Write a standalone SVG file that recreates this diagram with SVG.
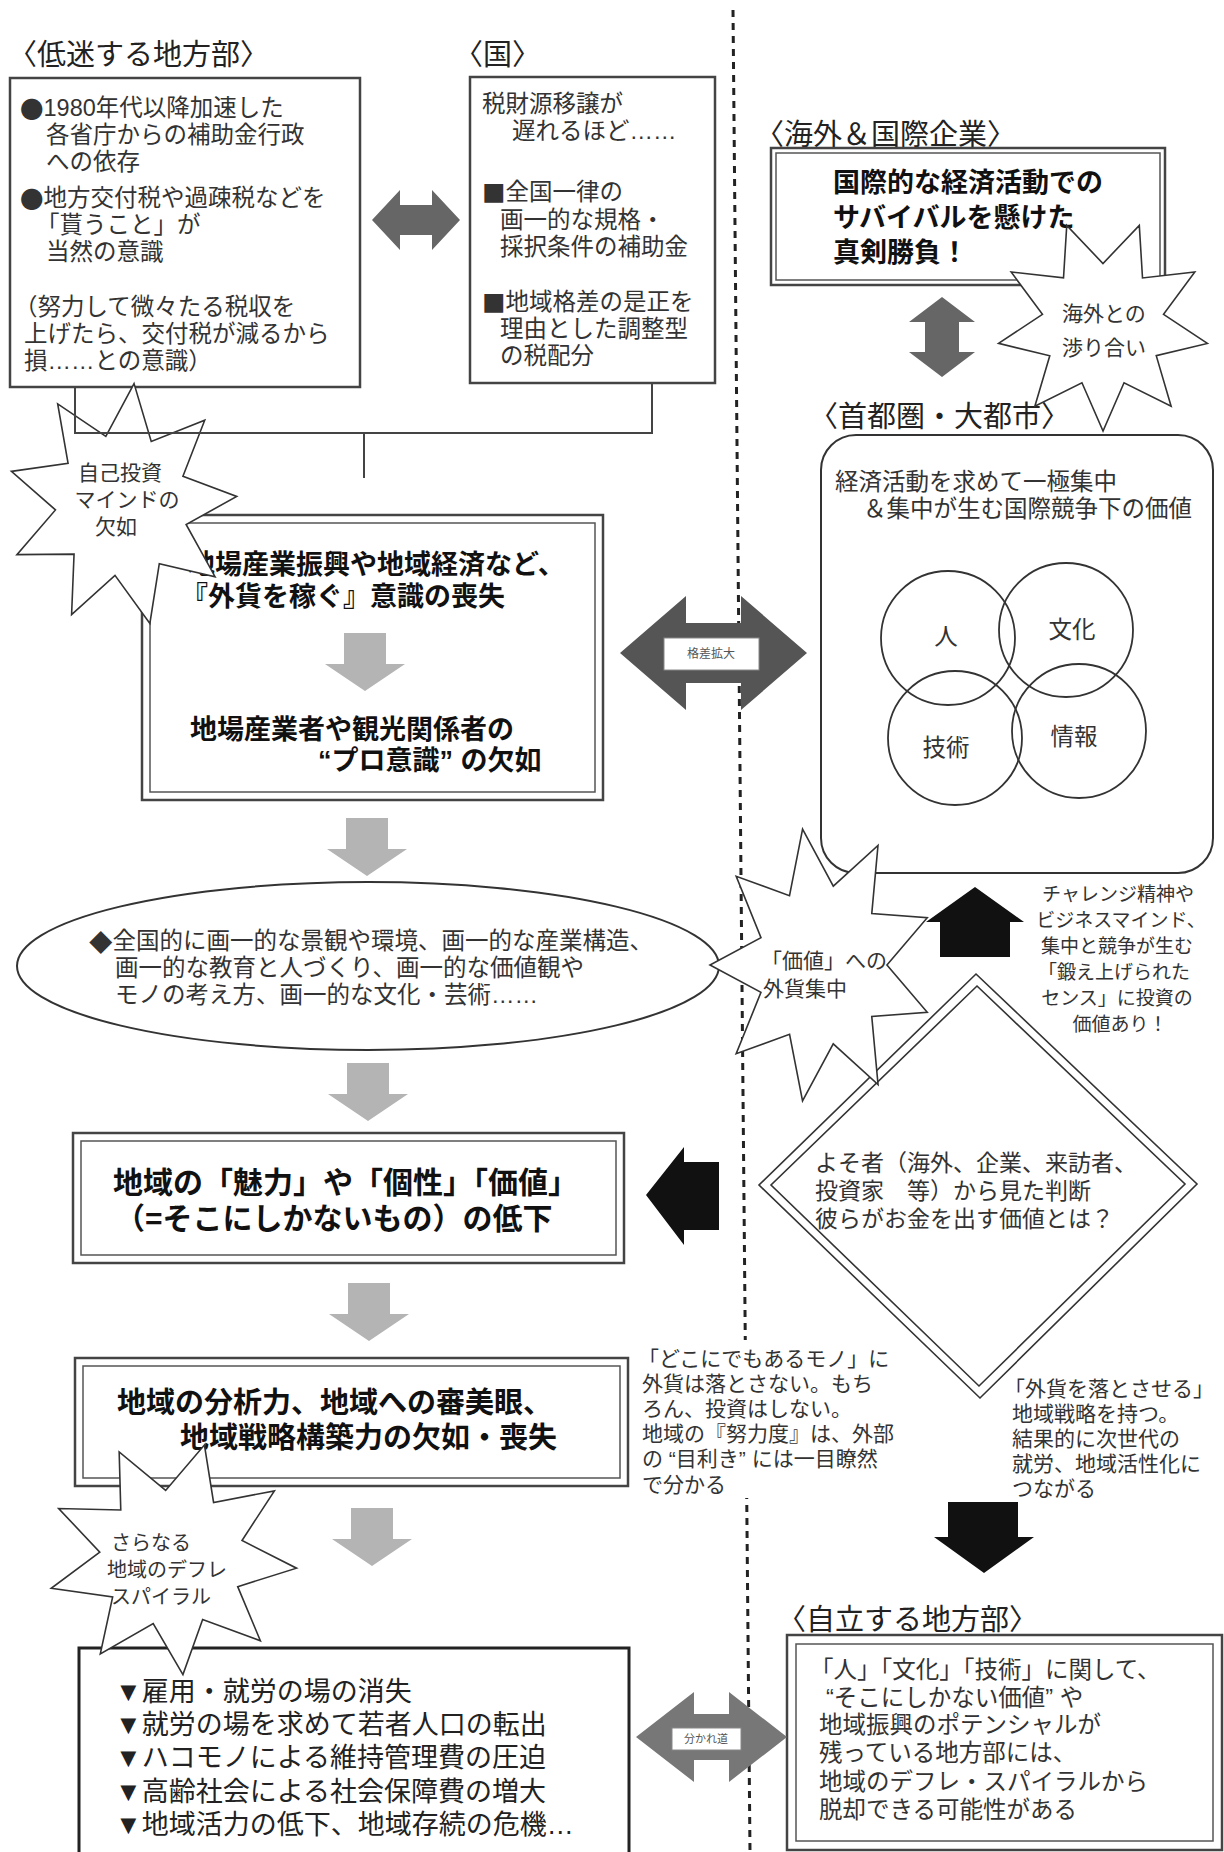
<svg xmlns="http://www.w3.org/2000/svg" width="1224" height="1852" viewBox="0 0 1224 1852">
<defs>
<style>
text { font-family: 'Liberation Sans', 'Noto Sans CJK JP', 'Noto Sans CJK SC', sans-serif; dominant-baseline: central; }
.cjk { font-family: 'Noto Sans CJK JP', 'Noto Sans CJK SC', sans-serif; }
.ttl { font-size: 29px; fill: #222; }
.body { font-size: 23.5px; fill: #333; }
.s21 { font-size: 21px; fill: #333; }
.s19 { font-size: 19px; fill: #333; }
.hb { font-weight: 700; fill: #111; }
.box { fill: #fff; stroke: #444; stroke-width: 2.5; }
.inner { fill: none; stroke: #555; stroke-width: 1.5; }
.line { fill: none; stroke: #333; stroke-width: 1.8; }
.star { fill: #fff; stroke: #333; stroke-width: 1.6; vector-effect: non-scaling-stroke; stroke-linejoin: miter; }
.garrow { fill: #b4b4b4; }
.darr { fill: #111; }
.conn { stroke: #444; stroke-width: 2; fill: none; }
.divider { stroke: #222; stroke-width: 3; stroke-dasharray: 7 6; fill: none; }
.lbl { fill: #fff; stroke: #888; stroke-width: 1; }
.tiny { font-size: 12px; fill: #555; }
.kiki { font-size: 27px; fill: #222; }
</style>
<polygon id="star9" class="star" points="0.174,-0.985 0.29,-0.502 0.766,-0.643 0.545,-0.198 1,0 0.545,0.198 0.766,0.643 0.29,0.502 0.174,0.985 -0.101,0.571 -0.5,0.866 -0.444,0.373 -0.94,0.342 -0.58,0 -0.94,-0.342 -0.444,-0.373 -0.5,-0.866 -0.101,-0.571"/>
<path id="gdown" class="garrow" d="M-21,0 H21 V31 H40 L0,58 L-40,31 H-21 Z"/>
</defs>

<rect width="1224" height="1852" fill="#fff"/>

<g id="divider">
<line class="divider" x1="733" y1="10" x2="750" y2="1852"/>
</g>

<!-- 低迷する地方部 -->
<g id="node-teimei">
<text class="ttl" x="8" y="55">〈低迷する地方部〉</text>
<rect class="box" x="10" y="78" width="350" height="309"/>
<text class="body" x="20" y="108"><tspan class="cjk">●</tspan>1980年代以降加速した</text>
<text class="body" x="46" y="135">各省庁からの補助金行政</text>
<text class="body" x="46" y="162">への依存</text>
<text class="body" x="20" y="198"><tspan class="cjk">●</tspan>地方交付税や過疎税などを</text>
<text class="body" x="36" y="225">「貰うこと」が</text>
<text class="body" x="46" y="252">当然の意識</text>
<text class="body" x="14" y="307">（努力して微々たる税収を</text>
<text class="body" x="24" y="334">上げたら、交付税が減るから</text>
<text class="body" x="24" y="361">損……との意識）</text>
</g>

<!-- 国 -->
<g id="node-kuni">
<text class="ttl" x="454" y="55">〈国〉</text>
<rect class="box" x="470" y="77" width="245" height="306"/>
<text class="body" x="482" y="104">税財源移譲が</text>
<text class="body" x="512" y="131">遅れるほど……</text>
<text class="body" x="482" y="192"><tspan class="cjk">■</tspan>全国一律の</text>
<text class="body" x="500" y="220">画一的な規格・</text>
<text class="body" x="500" y="247">採択条件の補助金</text>
<text class="body" x="482" y="302"><tspan class="cjk">■</tspan>地域格差の是正を</text>
<text class="body" x="500" y="329">理由とした調整型</text>
<text class="body" x="500" y="356">の税配分</text>
</g>

<!-- 海外&国際企業 -->
<g id="node-kaigai">
<text class="ttl" x="755" y="135">〈海外＆国際企業〉</text>
<rect class="box" x="771" y="148" width="394" height="137"/>
<rect class="inner" x="776" y="153" width="384" height="127"/>
<text class="body hb" style="font-size:27px" x="833" y="183">国際的な経済活動での</text>
<text class="body hb" style="font-size:27px" x="833" y="218">サバイバルを懸けた</text>
<text class="body hb" style="font-size:27px" x="833" y="253">真剣勝負！</text>
</g>

<!-- 首都圏・大都市 -->
<g id="node-shutoken">
<text class="ttl" x="809" y="417">〈首都圏・大都市〉</text>
<rect class="box" x="821" y="435" width="392" height="438" rx="35" ry="35" style="stroke:#333;stroke-width:2"/>
<text class="body" x="835" y="482">経済活動を求めて一極集中</text>
<text class="body" x="863" y="509">＆集中が生む国際競争下の価値</text>
<circle class="line" cx="948" cy="638" r="67"/>
<circle class="line" cx="1066" cy="630" r="67"/>
<circle class="line" cx="955" cy="738" r="67"/>
<circle class="line" cx="1079" cy="731" r="67"/>
<text class="body" x="946" y="637" text-anchor="middle">人</text>
<text class="body" x="1072" y="630" text-anchor="middle">文化</text>
<text class="body" x="946" y="748" text-anchor="middle">技術</text>
<text class="body" x="1074" y="737" text-anchor="middle">情報</text>
</g>

<!-- 地場産業 box -->
<g id="node-jiba">
<rect class="box" x="142" y="515" width="461" height="285"/>
<rect class="inner" x="150" y="523" width="445" height="269"/>
<text class="body hb" style="font-size:27px" x="188" y="565">地場産業振興や地域経済など、</text>
<text class="body hb" style="font-size:27px" x="181" y="597">『外貨を稼ぐ』意識の喪失</text>
<use href="#gdown" x="365" y="633"/>
<text class="body hb" style="font-size:27px" x="190" y="730">地場産業者や観光関係者の</text>
<text class="body hb" style="font-size:27px" x="318" y="761">“プロ意識” の欠如</text>
</g>

<!-- ellipse -->
<g id="node-kakuitsu">
<ellipse class="line" cx="368" cy="966" rx="351" ry="84" style="stroke-width:2"/>
<text class="body" x="89" y="941"><tspan class="cjk">◆</tspan>全国的に画一的な景観や環境、画一的な産業構造、</text>
<text class="body" x="115" y="968">画一的な教育と人づくり、画一的な価値観や</text>
<text class="body" x="115" y="995">モノの考え方、画一的な文化・芸術……</text>
</g>

<!-- 魅力 box -->
<g id="node-miryoku">
<rect class="box" x="73" y="1133" width="551" height="130"/>
<rect class="inner" x="81" y="1141" width="535" height="114"/>
<text class="body hb" style="font-size:30px" x="113" y="1182">地域の「魅力」や「個性」「価値」</text>
<text class="body hb" style="font-size:30px" x="115" y="1218">（=そこにしかないもの）の低下</text>
</g>

<!-- 分析力 box -->
<g id="node-bunseki">
<rect class="box" x="75" y="1358" width="553" height="128"/>
<rect class="inner" x="83" y="1366" width="537" height="112"/>
<text class="body hb" style="font-size:29px" x="117" y="1403">地域の分析力、地域への審美眼、</text>
<text class="body hb" style="font-size:29px" x="180" y="1438">地域戦略構築力の欠如・喪失</text>
</g>

<!-- bottom box -->
<g id="node-kiki">
<rect class="box" x="79" y="1648" width="550" height="230" style="stroke:#222;stroke-width:3"/>
<text class="kiki" x="115" y="1692">▼雇用・就労の場の消失</text>
<text class="kiki" x="115" y="1725">▼就労の場を求めて若者人口の転出</text>
<text class="kiki" x="115" y="1758">▼ハコモノによる維持管理費の圧迫</text>
<text class="kiki" x="115" y="1792">▼高齢社会による社会保障費の増大</text>
<text class="kiki" x="115" y="1825">▼地域活力の低下、地域存続の危機…</text>
</g>

<!-- diamond -->
<g id="node-yosomono">
<polygon class="line" style="stroke-width:1.6" points="976,974 1197,1184 980,1398 759,1185"/>
<polygon class="line" style="stroke-width:1.6" points="977,986 1185,1184 979,1386 771,1185"/>
<text class="body" style="font-size:23px" x="815" y="1163">よそ者（海外、企業、来訪者、</text>
<text class="body" style="font-size:23px" x="815" y="1191">投資家　等）から見た判断</text>
<text class="body" style="font-size:23px" x="815" y="1219">彼らがお金を出す価値とは？</text>
</g>

<!-- notes -->
<g id="note-challenge">
<text class="s19" x="1118" y="894" text-anchor="middle">チャレンジ精神や</text>
<text class="s19" x="1121" y="920" text-anchor="middle">ビジネスマインド、</text>
<text class="s19" x="1117" y="946" text-anchor="middle">集中と競争が生む</text>
<text class="s19" x="1114" y="972" text-anchor="middle">「鍛え上げられた</text>
<text class="s19" x="1117" y="998" text-anchor="middle">センス」に投資の</text>
<text class="s19" x="1120" y="1024" text-anchor="middle">価値あり！</text>
</g>

<g id="note-dokonidemo">
<rect x="636" y="1340" width="266" height="158" fill="#fff"/>
<text class="s21" x="638" y="1358">「どこにでもあるモノ」に</text>
<text class="s21" x="642" y="1383">外貨は落とさない。もち</text>
<text class="s21" x="642" y="1408">ろん、投資はしない。</text>
<text class="s21" x="642" y="1433">地域の『努力度』は、外部</text>
<text class="s21" x="642" y="1458">の “目利き” には一目瞭然</text>
<text class="s21" x="642" y="1484">で分かる</text>
</g>

<g id="note-otosaseru">
<text class="s21" x="1004" y="1388">「外貨を落とさせる」</text>
<text class="s21" x="1012" y="1413">地域戦略を持つ。</text>
<text class="s21" x="1012" y="1438">結果的に次世代の</text>
<text class="s21" x="1012" y="1463">就労、地域活性化に</text>
<text class="s21" x="1012" y="1488">つながる</text>
</g>

<!-- 自立する地方部 -->
<g id="node-jiritsu">
<text class="ttl" x="777" y="1620">〈自立する地方部〉</text>
<rect class="box" x="787" y="1635" width="435" height="215"/>
<rect class="inner" x="796" y="1644" width="417" height="197"/>
<text class="body" x="810" y="1670">「人」「文化」「技術」に関して、</text>
<text class="body" x="826" y="1698">“そこにしかない価値” や</text>
<text class="body" x="819" y="1725">地域振興のポテンシャルが</text>
<text class="body" x="819" y="1753">残っている地方部には、</text>
<text class="body" x="819" y="1782">地域のデフレ・スパイラルから</text>
<text class="body" x="819" y="1810">脱却できる可能性がある</text>
</g>

<!-- arrows -->
<g id="arrows">
<path fill="#666" d="M372,220 L400,190 L400,205 L432,205 L432,190 L460,220 L432,250 L432,235 L400,235 L400,250 Z"/>
<path fill="#666" d="M942,297 L975,322 L959,322 L959,352 L975,352 L942,377 L909,352 L925,352 L925,322 L909,322 Z"/>
<path fill="#555" d="M620,653 L686,596 L686,623 L741,623 L741,596 L807,653 L741,710 L741,683 L686,683 L686,710 Z"/>
<rect class="lbl" x="664" y="638" width="95" height="32"/>
<text class="tiny" x="711" y="654" text-anchor="middle">格差拡大</text>
<path fill="#777" d="M636,1737 L694,1692 L694,1714 L729,1714 L729,1692 L787,1737 L729,1782 L729,1760 L694,1760 L694,1782 Z"/>
<rect class="lbl" x="672" y="1728" width="69" height="22"/>
<text class="tiny" style="font-size:11px" x="706" y="1739" text-anchor="middle">分かれ道</text>
<use href="#gdown" x="367" y="818"/>
<use href="#gdown" x="368" y="1063"/>
<use href="#gdown" x="369" y="1283"/>
<use href="#gdown" x="372" y="1508"/>
<path class="darr" d="M975,887 L1024,922 L1010,922 L1010,957 L940,957 L940,922 L926,922 Z"/>
<path class="darr" d="M646,1195 L684,1147 L684,1162 L719,1162 L719,1230 L684,1230 L684,1245 Z"/>
<path class="darr" d="M948,1502 L1018,1502 L1018,1537 L1034,1537 L984,1573 L934,1537 L948,1537 Z"/>
</g>

<!-- stars -->
<g id="star-jikotoushi">
<use href="#star9" transform="translate(122,505) scale(115,122) rotate(-4)"/>
<text class="s21" x="120" y="472" text-anchor="middle">自己投資</text>
<text class="s21" x="127" y="499" text-anchor="middle">マインドの</text>
<text class="s21" x="116" y="526" text-anchor="middle">欠如</text>
</g>

<g id="star-kaigai">
<use href="#star9" transform="translate(1103,325) scale(106,106) rotate(10)"/>
<text class="s21" x="1062" y="313">海外との</text>
<text class="s21" x="1062" y="347">渉り合い</text>
</g>

<g id="star-kachi">
<use href="#star9" transform="translate(822,965) scale(112,138) rotate(-20)"/>
<text class="s21" x="761" y="960">「価値」への</text>
<text class="s21" x="763" y="988">外貨集中</text>
</g>

<g id="star-deflation">
<use href="#star9" transform="translate(172,1558) scale(125,117) rotate(5)"/>
<text class="body" style="font-size:20px" x="111" y="1543">さらなる</text>
<text class="body" style="font-size:20px" x="107" y="1570">地域のデフレ</text>
<text class="body" style="font-size:20px" x="111" y="1597">スパイラル</text>
</g>

<!-- connectors -->
<g id="connectors">
<polyline class="conn" points="75,387 75,433 652,433 652,383"/>
<line class="conn" x1="364" y1="433" x2="364" y2="478"/>
</g>
</svg>
